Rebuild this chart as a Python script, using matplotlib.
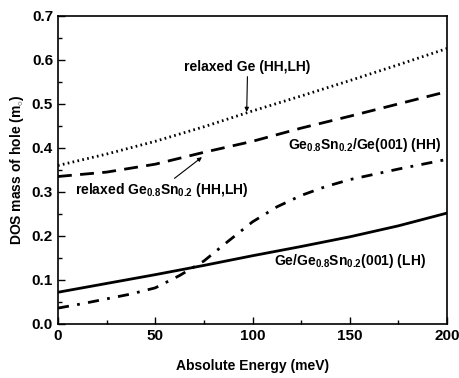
import matplotlib
matplotlib.use("Agg")
import matplotlib.pyplot as plt
from matplotlib.ticker import MultipleLocator

plt.rcParams['font.family'] = ['Liberation Sans', 'DejaVu Sans']
plt.rcParams['font.weight'] = 'bold'
plt.rcParams['mathtext.fontset'] = 'custom'
plt.rcParams['mathtext.rm'] = 'Liberation Sans:bold'
plt.rcParams['mathtext.bf'] = 'Liberation Sans:bold'
plt.rcParams['mathtext.default'] = 'bf'

energy = [0, 25, 50, 75, 100, 125, 150, 175, 200]
relaxed_ge = [0.360, 0.386, 0.415, 0.448, 0.484, 0.518, 0.553, 0.589, 0.626]
relaxed_gesn = [0.335, 0.345, 0.363, 0.390, 0.415, 0.445, 0.472, 0.500, 0.528]
energy_hh = [0, 12.5, 25, 37.5, 50, 62.5, 75, 87.5, 100, 112.5, 125, 137.5, 150, 175, 200]
gesn_on_ge_hh = [0.036, 0.046, 0.057, 0.068, 0.082, 0.110, 0.143, 0.188, 0.232,
                 0.266, 0.292, 0.312, 0.328, 0.352, 0.374]
ge_on_gesn_lh = [0.072, 0.092, 0.112, 0.133, 0.155, 0.176, 0.198, 0.223, 0.252]

fig = plt.figure(figsize=(4.6, 3.78), dpi=100)
ax = fig.add_axes([0.126, 0.143, 0.846, 0.815])

ax.plot(energy, relaxed_ge, color='black', lw=2, linestyle=(0, (0.6, 1.2)))
ax.plot(energy, relaxed_gesn, color='black', lw=2, linestyle=(0, (5, 3)))
ax.plot(energy_hh, gesn_on_ge_hh, color='black', lw=2, linestyle=(0, (4, 3, 1, 3)))
ax.plot(energy, ge_on_gesn_lh, color='black', lw=2, linestyle='-')

ax.set_xlim(0, 200)
ax.set_ylim(0.0, 0.7)
ax.xaxis.set_major_locator(MultipleLocator(50))
ax.xaxis.set_minor_locator(MultipleLocator(25))
ax.yaxis.set_major_locator(MultipleLocator(0.1))
ax.yaxis.set_minor_locator(MultipleLocator(0.05))
ax.yaxis.set_major_formatter(matplotlib.ticker.FormatStrFormatter('%.1f'))
ax.tick_params(which='both', direction='in', labelsize=11, width=1)
ax.tick_params(which='major', length=5)
ax.tick_params(which='minor', length=3)
for lab in ax.get_xticklabels() + ax.get_yticklabels():
    lab.set_fontweight('bold')
for sp in ax.spines.values():
    sp.set_linewidth(1.2)

ax.set_xlabel('Absolute Energy (meV)', fontsize=10, fontweight='bold', labelpad=12)
ax.set_ylabel('DOS mass of hole (m$_{\\circ}$)', fontsize=10, fontweight='bold')

fs = 10
ax.annotate('relaxed Ge (HH,LH)', xy=(97, 0.482), xytext=(65, 0.575),
            fontsize=fs, fontweight='bold',
            arrowprops=dict(arrowstyle='-|>', color='black', lw=0.8, mutation_scale=6,
                            shrinkA=0, shrinkB=0))
ax.annotate('relaxed Ge$_{0.8}$Sn$_{0.2}$ (HH,LH)', xy=(74, 0.379), xytext=(9, 0.295),
            fontsize=fs, fontweight='bold',
            arrowprops=dict(arrowstyle='-|>', color='black', lw=0.8, mutation_scale=6,
                            shrinkA=0, shrinkB=0, relpos=(0.55, 1.0)))
ax.text(118, 0.407, 'Ge$_{0.8}$Sn$_{0.2}$/Ge(001) (HH)', fontsize=fs, fontweight='bold',
        va='center')
ax.text(111, 0.142, 'Ge/Ge$_{0.8}$Sn$_{0.2}$(001) (LH)', fontsize=fs, fontweight='bold',
        va='center')

fig.savefig('out.png', dpi=100)
